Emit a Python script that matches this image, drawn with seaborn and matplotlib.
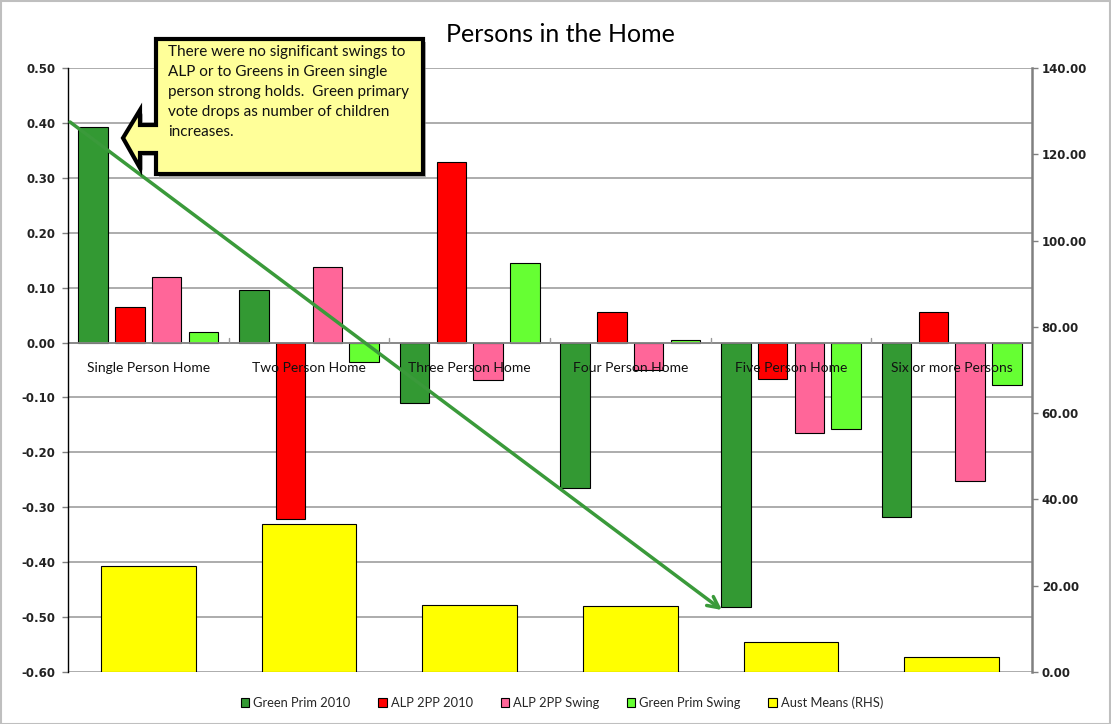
import numpy as np
import pandas as pd
import matplotlib
matplotlib.use("Agg")
import matplotlib.pyplot as plt
import seaborn as sns
from matplotlib.patches import Patch, Polygon, Rectangle, FancyArrowPatch
from matplotlib.ticker import FuncFormatter

# ---------------- data ----------------
categories = ["Single Person Home", "Two Person Home", "Three Person Home",
              "Four Person Home", "Five Person Home", "Six or more Persons"]
green_prim_2010 = [0.393, 0.095, -0.111, -0.264, -0.481, -0.317]
alp_2pp_2010 = [0.064, -0.322, 0.328, 0.056, -0.066, 0.056]
alp_2pp_swing = [0.120, 0.137, -0.069, -0.050, -0.164, -0.253]
green_prim_swing = [0.020, -0.035, 0.144, 0.004, -0.157, -0.078]
aust_means = [24.6, 34.3, 15.5, 15.3, 7.0, 3.5]

series_names = ["Green Prim 2010", "ALP 2PP 2010", "ALP 2PP Swing", "Green Prim Swing"]
rhs_name = "Aust Means (RHS)"
series_colors = ["#339933", "#FF0000", "#FF6699", "#66FF33"]
rhs_color = "#FFFF00"

title = "Persons in the Home"
note = ("There were no significant swings to\n"
        "ALP or to Greens in Green single\n"
        "person strong holds.  Green primary\n"
        "vote drops as number of children\n"
        "increases.")

W, H = 1111, 724

df = pd.DataFrame({
    "cat": categories * 4,
    "series": sum([[s] * len(categories) for s in series_names], []),
    "value": green_prim_2010 + alp_2pp_2010 + alp_2pp_swing + green_prim_swing,
})
df_rhs = pd.DataFrame({"cat": categories, "value": aust_means})

sns.set_theme(style="white")
plt.rcParams["font.family"] = ["Lato", "DejaVu Sans"]

fig = plt.figure(figsize=(W / 100, H / 100), dpi=100)
ax = fig.add_axes([68 / W, 1 - 672 / H, (1032 - 68) / W, (672 - 68) / H])

ax.set_axisbelow(True)
ax.yaxis.grid(True, color="#a6a6a6", linewidth=1.3)
ax.xaxis.grid(False)

sns.barplot(data=df, x="cat", y="value", hue="series", order=categories,
            hue_order=series_names, palette=series_colors, width=0.916, gap=0.2,
            edgecolor="black", linewidth=0.8, errorbar=None, legend=False,
            saturation=1, ax=ax)

ax2 = ax.twinx()
sns.barplot(data=df_rhs, x="cat", y="value", order=categories, color=rhs_color,
            width=0.59, edgecolor="black", linewidth=0.8, errorbar=None,
            saturation=1, ax=ax2)

ax.set_xlim(-0.5, len(categories) - 0.5)
ax2.set_xlim(-0.5, len(categories) - 0.5)
ax.set_ylim(-0.6, 0.5)
ax2.set_ylim(0, 140)
ax.set_yticks(np.round(np.arange(-0.6, 0.51, 0.1), 2))
ax2.set_yticks(np.arange(0, 141, 20))
ax.yaxis.set_major_formatter(FuncFormatter(lambda v, p: f"{round(v, 2) + 0.0:.2f}"))
ax2.yaxis.set_major_formatter(FuncFormatter(lambda v, p: f"{v:.2f}"))
for a in (ax, ax2):
    a.set_xlabel("")
    a.set_ylabel("")
    a.set_xticks([])
ax.tick_params(axis="y", labelsize=8.5, length=4, width=1, color="#808080",
               left=True, pad=5)
ax2.tick_params(axis="y", labelsize=8.5, length=4, width=1, color="#808080",
                right=True, pad=3)
for lab in ax.get_yticklabels() + ax2.get_yticklabels():
    lab.set_fontfamily("DejaVu Sans")
    lab.set_fontweight("bold")
    lab.set_color("#222222")

for a in (ax, ax2):
    for s in a.spines.values():
        s.set_visible(False)
ax.spines["left"].set_visible(True)
ax.spines["left"].set_color("black")
ax.spines["left"].set_linewidth(1.0)
ax2.spines["right"].set_visible(True)
ax2.spines["right"].set_color("#808080")
ax2.spines["right"].set_linewidth(1.8)

# category axis line at zero
ax.axhline(0, color="#888888", linewidth=1.3, zorder=1.5)
for b in np.arange(0.5, len(categories) - 0.5, 1.0):
    ax.plot([b, b], [0, 0.008], color="#999999", linewidth=1, zorder=1.5)

# category labels (drawn on the top axes, positioned in left-axis data coords)
for i, c in enumerate(categories):
    ax2.text(i, -0.046, c, transform=ax.transData, ha="center", va="center",
             fontsize=10, color="#111111", zorder=5)

# title
fig.text(560 / W, 1 - 35 / H, title, ha="center", va="center", fontsize=18,
         color="black")

# legend
handles = [Patch(facecolor=c, edgecolor="black", linewidth=0.8) for c in series_colors]
handles.append(Patch(facecolor=rhs_color, edgecolor="black", linewidth=0.8))
fig.legend(handles, series_names + [rhs_name], loc="center",
           bbox_to_anchor=(562 / W, 1 - 703 / H), ncol=5, frameon=False,
           fontsize=9.3, handlelength=0.65, handleheight=0.65, handletextpad=0.3,
           columnspacing=2.15)

def px(x, y):
    return (x / W, 1 - y / H)

# green trend arrow
arr = FancyArrowPatch(px(70, 122), px(722, 610), transform=fig.transFigure,
                      arrowstyle="->,head_length=8,head_width=4",
                      color="#3A9A3A", linewidth=2.5, zorder=6,
                      shrinkA=0, shrinkB=0, mutation_scale=1)
fig.add_artist(arr)

# callout with left-pointing arrow
pts_px = [(156, 39), (423, 39), (423, 174), (156, 174), (156, 153), (140, 153),
          (140, 168), (123, 138), (140, 110), (140, 125), (156, 125)]
shadow = Polygon([px(x + 3, y + 3) for x, y in pts_px], closed=True,
                 transform=fig.transFigure, facecolor="#808080", edgecolor="none",
                 zorder=7, alpha=0.6)
fig.add_artist(shadow)
callout = Polygon([px(x, y) for x, y in pts_px], closed=True,
                  transform=fig.transFigure, facecolor="#FFFF99",
                  edgecolor="black", linewidth=3.0, joinstyle="miter", zorder=8)
fig.add_artist(callout)
fig.text(168 / W, 1 - 45 / H, note, ha="left", va="top", fontsize=11,
         linespacing=1.55, color="#111111", zorder=9)

# outer chart border
fig.add_artist(Rectangle((0.5 / W, 0.5 / H), 1 - 1.5 / W, 1 - 1.5 / H,
                         transform=fig.transFigure, fill=False,
                         edgecolor="#bfbfbf", linewidth=1.5, zorder=10))

fig.savefig("out.png", dpi=100, facecolor="white")
